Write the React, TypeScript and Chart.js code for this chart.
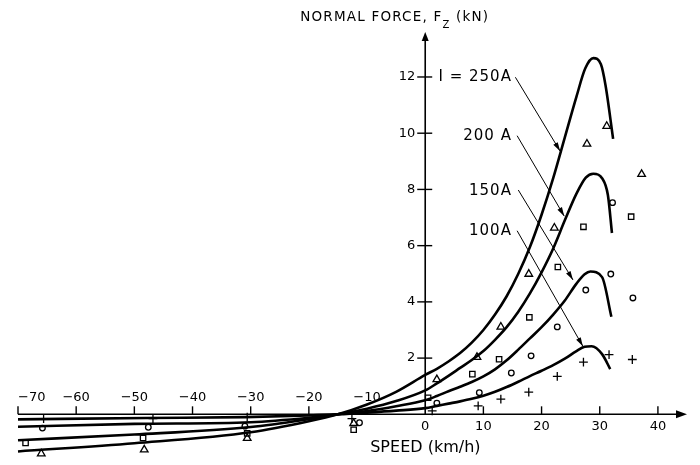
import React, { useEffect, useRef } from 'react';
import { Chart, registerables } from 'chart.js';

Chart.register(...registerables);

// ---- axis ranges & ticks ----
const X_MIN = -70;
const X_MAX = 45;
const Y_MIN = -1.6;
const Y_MAX = 13.6;
const speedTicksUpper = [-70, -60, -50, -40, -30, -20, -10];
const speedTicksLower = [0, 10, 20, 30, 40];
const forceTicks = [2, 4, 6, 8, 10, 12];

// ---- calculated curves: [speed km/h, Fz kN] ----
const curve250: [number, number][] = [
  [-70, -1.32], [-50, -1.03], [-30, -0.64], [-20, -0.25], [-15, 0], [-10, 0.35], [-5, 0.8],
  [0, 1.4], [2, 1.62], [4, 1.88], [6, 2.18], [8, 2.55], [10, 3.0], [12, 3.55], [14, 4.2],
  [16, 5.0], [18, 5.95], [20, 7.1], [22, 8.4], [24, 9.85], [26, 11.3], [27.5, 12.3],
  [28.9, 12.67], [30.2, 12.45], [31, 11.7], [32.3, 9.8],
];
const curve200: [number, number][] = [
  [-70, -0.92], [-50, -0.72], [-30, -0.45], [-20, -0.17], [-15, 0], [-10, 0.2], [-5, 0.47],
  [0, 0.85], [2, 1.1], [4, 1.37], [6, 1.65], [8, 1.93], [10, 2.25], [12, 2.65], [14, 3.1],
  [16, 3.65], [18, 4.3], [20, 5.05], [22, 5.9], [24, 6.9], [26, 7.85], [27.6, 8.42],
  [28.9, 8.56], [30.4, 8.4], [31.4, 7.8], [32.1, 6.45],
];
const curve150: [number, number][] = [
  [-70, -0.44], [-50, -0.34], [-30, -0.28], [-20, -0.12], [-15, 0], [-10, 0.12], [-5, 0.29],
  [0, 0.5], [2, 0.65], [4, 0.82], [6, 0.98], [8, 1.15], [10, 1.35], [12, 1.6], [14, 1.92],
  [16, 2.3], [18, 2.7], [20, 3.1], [22, 3.55], [24, 4.05], [26, 4.65], [27.4, 4.98],
  [28.4, 5.08], [30.4, 4.88], [32, 3.47],
];
const curve100: [number, number][] = [
  [-70, -0.18], [-48, -0.13], [-31, -0.1], [-20, -0.04], [-15, 0], [-10, 0.06], [-5, 0.13],
  [0, 0.22], [2, 0.3], [4, 0.38], [6, 0.46], [8, 0.55], [10, 0.66], [12, 0.8], [14, 0.97],
  [16, 1.16], [18, 1.36], [20, 1.55], [22, 1.75], [24, 1.98], [26, 2.25], [27.4, 2.4],
  [28.6, 2.42], [30.4, 2.14], [31.8, 1.61],
];

// ---- measured points ----
const meas250: [number, number][] = [
  [-66, -1.4], [-48.3, -1.26], [-30.6, -0.85], [-12.3, -0.32], [2.0, 1.24], [8.9, 2.03],
  [13.0, 3.11], [17.8, 4.99], [22.2, 6.63], [27.8, 9.62], [31.2, 10.25], [37.2, 8.54],
];
const meas200: [number, number][] = [
  [-68.7, -1.02], [-48.5, -0.84], [-30.6, -0.68], [-12.3, -0.55], [0.5, 0.59], [8.1, 1.43],
  [12.7, 1.96], [17.9, 3.45], [22.8, 5.24], [27.2, 6.67], [35.4, 7.03],
];
const meas150: [number, number][] = [
  [-65.8, -0.49], [-47.6, -0.46], [-31, -0.42], [-11.3, -0.3], [2.0, 0.4], [9.3, 0.77],
  [14.8, 1.47], [18.2, 2.08], [22.7, 3.11], [27.6, 4.42], [32.2, 7.53], [31.9, 4.99], [35.7, 4.14],
];
const meas100: [number, number][] = [
  [-65.6, -0.15], [-46.8, -0.15], [-30.6, -0.1], [-12.6, -0.15], [1.2, 0.12], [9.1, 0.3],
  [13.0, 0.54], [17.8, 0.79], [22.7, 1.35], [27.2, 1.86], [31.6, 2.12], [35.6, 1.95],
];

// ---- current labels & leader arrows ----
const currentLabels = ['I = 250A', '200 A', '150A', '100A'];
const labelAnchors: [number, number][] = [[14.9, 12.0], [14.9, 9.9], [14.9, 7.95], [14.9, 6.5]];
const arrowStarts: [number, number][] = [[15.5, 11.99], [15.8, 9.91], [16.0, 7.98], [15.8, 6.53]];
const arrowEnds: [number, number][] = [[23.2, 9.36], [23.9, 7.05], [25.4, 4.78], [27.1, 2.42]];

const toXY = (arr: [number, number][]) => arr.map(([x, y]) => ({ x, y }));

const FONT = '"DejaVu Sans", sans-serif';

function arrowHead(ctx: CanvasRenderingContext2D, x1: number, y1: number, x2: number, y2: number, len: number, half: number) {
  const a = Math.atan2(y2 - y1, x2 - x1);
  ctx.beginPath();
  ctx.moveTo(x2, y2);
  ctx.lineTo(x2 - len * Math.cos(a) + half * Math.sin(a), y2 - len * Math.sin(a) - half * Math.cos(a));
  ctx.lineTo(x2 - len * Math.cos(a) - half * Math.sin(a), y2 - len * Math.sin(a) + half * Math.cos(a));
  ctx.closePath();
  ctx.fill();
}

const axesPlugin = {
  id: 'engAxes',
  beforeDatasetsDraw(chart: any) {
    const { ctx, scales } = chart;
    const xs = scales.x;
    const ys = scales.y;
    const X = (v: number) => xs.getPixelForValue(v);
    const Y = (v: number) => ys.getPixelForValue(v);
    const x0 = X(0);
    const y0 = Y(0);
    ctx.save();
    ctx.strokeStyle = '#000';
    ctx.fillStyle = '#000';
    ctx.lineWidth = 1.6;
    // x axis
    ctx.beginPath();
    ctx.moveTo(X(X_MIN), y0);
    ctx.lineTo(X(X_MAX) - 4, y0);
    ctx.stroke();
    arrowHead(ctx, X(X_MIN), y0, X(X_MAX), y0, 11, 4);
    // y axis
    ctx.beginPath();
    ctx.moveTo(x0, y0);
    ctx.lineTo(x0, Y(Y_MAX) + 4);
    ctx.stroke();
    arrowHead(ctx, x0, y0, x0, Y(Y_MAX), 9, 3.5);

    // x ticks
    ctx.lineWidth = 1.4;
    [...speedTicksUpper, ...speedTicksLower].forEach((t) => {
      if (t === 0 || t === -10) return;
      ctx.beginPath();
      ctx.moveTo(X(t), y0);
      ctx.lineTo(X(t), y0 - 8);
      ctx.stroke();
    });
    ctx.font = `13px ${FONT}`;
    ctx.textBaseline = 'middle';
    speedTicksUpper.forEach((t) => {
      ctx.textAlign = t === X_MIN ? 'left' : 'center';
      const lbl = '\u2212' + Math.abs(t);
      ctx.fillText(lbl, X(t), y0 - 17);
    });
    speedTicksLower.forEach((t) => {
      ctx.textAlign = 'center';
      ctx.fillText(String(t), X(t), y0 + 12);
    });

    // y ticks
    forceTicks.forEach((t) => {
      ctx.beginPath();
      ctx.moveTo(x0 - 8, Y(t));
      ctx.lineTo(x0 + 7, Y(t));
      ctx.stroke();
      ctx.textAlign = 'right';
      ctx.fillText(String(t), x0 - 10, Y(t));
    });

    // axis titles
    ctx.textAlign = 'left';
    ctx.textBaseline = 'alphabetic';
    ctx.font = `13.5px ${FONT}`;
    (ctx as any).letterSpacing = '1.2px';
    const tx = x0 - 125;
    const part1 = 'NORMAL FORCE, F';
    ctx.fillText(part1, tx, 21);
    const w1 = ctx.measureText(part1).width;
    ctx.font = `10px ${FONT}`;
    ctx.fillText('Z', tx + w1, 28);
    const w2 = ctx.measureText('Z').width;
    ctx.font = `13.5px ${FONT}`;
    ctx.fillText(' (kN)', tx + w1 + w2, 21);
    (ctx as any).letterSpacing = '0px';

    ctx.font = `16px ${FONT}`;
    ctx.textBaseline = 'middle';
    ctx.fillText('SPEED (km/h)', x0 - 55, y0 + 34);
    ctx.restore();
  },
  afterDatasetsDraw(chart: any) {
    const { ctx, scales } = chart;
    const X = (v: number) => scales.x.getPixelForValue(v);
    const Y = (v: number) => scales.y.getPixelForValue(v);
    ctx.save();
    ctx.fillStyle = '#000';
    ctx.strokeStyle = '#000';
    ctx.font = `15px ${FONT}`;
    (ctx as any).letterSpacing = '1px';
    ctx.textAlign = 'right';
    ctx.textBaseline = 'middle';
    currentLabels.forEach((lbl, i) => {
      const [lx, ly] = labelAnchors[i];
      ctx.fillText(lbl, X(lx), Y(ly));
      const [sx, sy] = arrowStarts[i];
      const [ex, ey] = arrowEnds[i];
      ctx.lineWidth = 1;
      ctx.beginPath();
      ctx.moveTo(X(sx), Y(sy));
      ctx.lineTo(X(ex), Y(ey));
      ctx.stroke();
      arrowHead(ctx, X(sx), Y(sy), X(ex), Y(ey), 9, 2.6);
    });
    (ctx as any).letterSpacing = '0px';
    ctx.restore();
  },
};

export default function App() {
  const canvasRef = useRef<HTMLCanvasElement | null>(null);

  useEffect(() => {
    document.body.style.margin = '0';
    const canvas = canvasRef.current;
    if (!canvas) return;

    const curveDs = (data: [number, number][]) => ({
      type: 'scatter' as const,
      data: toXY(data),
      showLine: true,
      borderColor: '#000',
      borderWidth: 2.6,
      pointRadius: 0,
      cubicInterpolationMode: 'monotone' as const,
      fill: false,
      clip: false as any,
    });
    const markDs = (data: [number, number][], style: string, r: number) => ({
      type: 'scatter' as const,
      data: toXY(data),
      showLine: false,
      pointStyle: style as any,
      pointRadius: r,
      borderColor: '#000',
      backgroundColor: 'rgba(0,0,0,0)',
      borderWidth: 1.3,
      clip: false as any,
    });

    const chart = new Chart(canvas, {
      type: 'scatter',
      data: {
        datasets: [
          curveDs(curve250),
          curveDs(curve200),
          curveDs(curve150),
          curveDs(curve100),
          markDs(meas250, 'triangle', 4.4),
          markDs(meas200, 'rect', 3.8),
          markDs(meas150, 'circle', 2.8),
          markDs(meas100, 'cross', 4.4),
        ] as any,
      },
      options: {
        responsive: false,
        animation: false,
        layout: { padding: { left: 18, right: 13, top: 32, bottom: 1 } },
        scales: {
          x: { type: 'linear', min: X_MIN, max: X_MAX, display: false },
          y: { type: 'linear', min: Y_MIN, max: Y_MAX, display: false },
        },
        plugins: { legend: { display: false }, tooltip: { enabled: false } },
        events: [],
      },
      plugins: [axesPlugin],
    });
    return () => chart.destroy();
  }, []);

  return (
    <div style={{ width: 700, height: 465, background: '#fff' }}>
      <canvas ref={canvasRef} width={700} height={465} style={{ display: 'block' }} />
    </div>
  );
}
